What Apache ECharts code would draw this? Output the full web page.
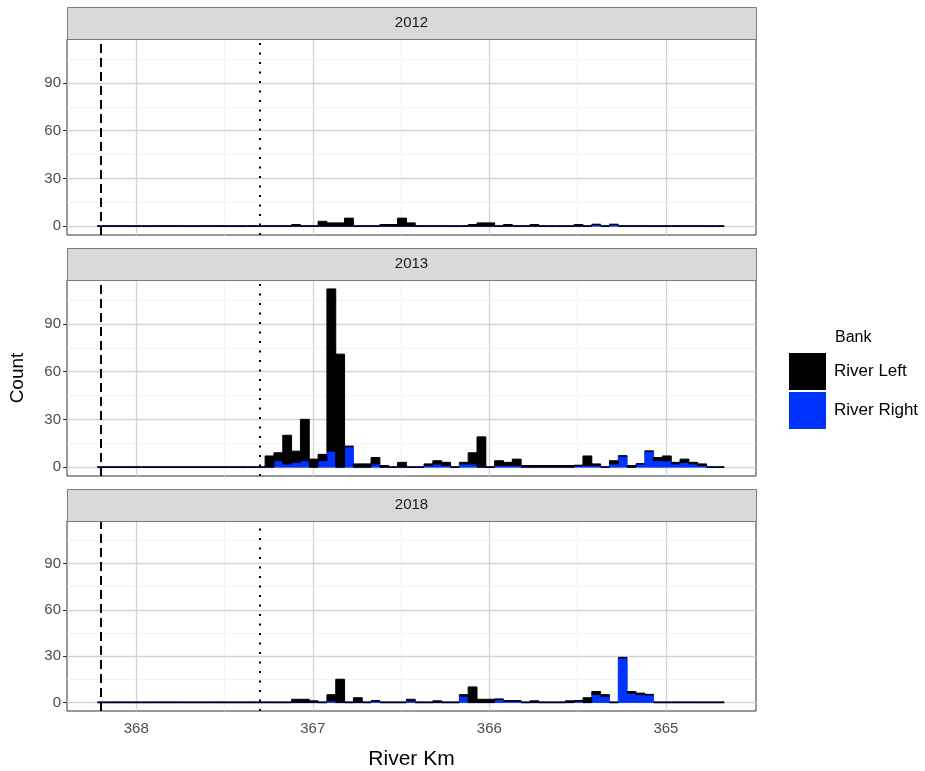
<!DOCTYPE html>
<html>
<head>
<meta charset="utf-8">
<script src="https://cdn.jsdelivr.net/npm/echarts@6/dist/echarts.min.js"></script>
<style>
html,body{margin:0;padding:0;background:#fff;}
#chart{width:925px;height:771px;}
</style>
</head>
<body>
<div id="chart"></div>
<script>
// ---- data ----
const years = ['2012', '2013', '2018'];
const binStart = 368.22;   // km of first bin edge (upstream end)
const binWidth = 0.05;     // km
const xTicks = [368, 367, 366, 365];
const xMinor = [367.5, 366.5, 365.5];
const yTicks = [0, 30, 60, 90];
const yMinor = [15, 45, 75, 105];
const refDashed = 368.2;
const refDotted = 367.3;

// counts per 0.05 km bin (71 bins, from 368.22 downstream)
const left2012 = [0,0,0,0,0,0,0,0,0,0, 0,0,0,0,0,0,0,0,0,0, 0,0,1,0,0,3,2,2,5,0, 0,0,1,1,5,2,0,0,0,0, 0,0,1,2,2,0,1,0,0,1, 0,0,0,0,1,0,0,0,0,0, 0,0,0,0,0,0,0,0,0,0, 0];
const right2012 = [0,0,0,0,0,0,0,0,0,0, 0,0,0,0,0,0,0,0,0,0, 0,0,0,0,0,0,0,0,0,0, 0,0,0,0,0,0,0,0,0,0, 0,0,0,0,0,0,0,0,0,0, 0,0,0,0,0,0,1,0,1,0, 0,0,0,0,0,0,0,0,0,0, 0];
const left2013 = [0,0,0,0,0,0,0,0,0,0, 0,0,0,0,0,0,0,0,0,7, 5,18,7,26,5,4,102,71,0,2, 2,4,1,0,3,0,0,1,2,2, 0,1,7,19,0,3,2,4,1,1, 1,1,1,1,0,6,1,0,2,0, 1,0,0,2,3,1,2,1,1,0, 0];
const right2013 = [0,0,0,0,0,0,0,0,0,0, 0,0,0,0,0,0,0,0,0,0, 4,2,3,4,0,4,10,0,13,0, 0,2,0,0,0,0,0,1,2,1, 0,2,2,0,0,1,1,1,0,0, 0,0,0,0,1,1,1,0,2,7, 0,2,10,4,4,2,3,2,1,0, 0];
const left2018 = [0,0,0,0,0,0,0,0,0,0, 0,0,0,0,0,0,0,0,0,0, 0,0,2,2,1,0,4,15,0,3, 0,0,0,0,0,1,0,0,1,0, 0,1,10,2,2,0,0,0,0,1, 0,0,0,1,0,3,2,1,0,0, 1,1,0,0,0,0,0,0,0,0, 0];
const right2018 = [0,0,0,0,0,0,0,0,0,0, 0,0,0,0,0,0,0,0,0,0, 0,0,0,0,0,0,1,0,0,0, 0,1,0,0,0,1,0,0,0,0, 0,4,0,0,0,2,1,1,0,0, 0,0,0,0,1,0,5,4,0,29, 6,5,5,0,0,0,0,0,0,0, 0];

const leftByYear = [left2012, left2013, left2018];
const rightByYear = [right2012, right2013, right2018];

// ---- styling / layout ----
const colLeft = '#000000';
const colRight = '#0033FF';
const xMin = 364.49, xMax = 368.392;
const yMin = -5.6, yMax = 117.6;
const gridLeft = 67, gridWidth = 689, gridHeight = 196, stripH = 32;
const gridTops = [39, 280, 521];
const font = 'Liberation Sans, Arial, Helvetica, sans-serif';

function barItems(lefts, rights) {
  const L = [], R = [];
  for (let k = 0; k < lefts.length; k++) {
    const x0 = binStart - k * binWidth;
    const x1 = x0 - binWidth;
    const r = rights[k], l = lefts[k];
    R.push([x0, x1, 0, r]);
    L.push([x0, x1, r, r + l]);
  }
  return {L, R};
}

function makeRender(color) {
  return function (params, api) {
    const x0 = api.value(0), x1 = api.value(1), b = api.value(2), t = api.value(3);
    const p0 = api.coord([x0, b]);
    const p1 = api.coord([x1, t]);
    const xl = Math.min(p0[0], p1[0]);
    const w = Math.abs(p1[0] - p0[0]);
    const h = p0[1] - p1[1];
    if (h < 0.5) {
      return {type: 'line', shape: {x1: xl, y1: p0[1], x2: xl + w, y2: p0[1]},
              style: {stroke: color, lineWidth: 1.6}};
    }
    return {type: 'rect', shape: {x: xl, y: p1[1], width: w, height: h},
            style: {fill: color, stroke: color, lineWidth: 1}};
  };
}

const grids = [], xAxes = [], yAxes = [], series = [], graphics = [];
years.forEach((yr, i) => {
  const last = i === years.length - 1;
  grids.push({left: gridLeft, top: gridTops[i], width: gridWidth, height: gridHeight,
              show: true, borderColor: '#333333', borderWidth: 1, backgroundColor: '#ffffff'});
  xAxes.push({
    type: 'value', gridIndex: i, inverse: true, min: xMin, max: xMax,
    splitLine: {show: false}, axisLine: {show: false},
    axisTick: {show: last, customValues: xTicks, length: 5, lineStyle: {color: '#333333', width: 1}},
    axisLabel: {show: last, customValues: xTicks, color: '#4D4D4D', fontSize: 15, fontFamily: font, margin: 10},
    name: last ? 'River Km' : '', nameLocation: 'middle', nameGap: 38,
    nameTextStyle: {fontSize: 21, color: '#000', fontFamily: font}
  });
  yAxes.push({
    type: 'value', gridIndex: i, min: yMin, max: yMax,
    splitLine: {show: false}, axisLine: {show: false},
    axisTick: {show: true, customValues: yTicks, length: 4, lineStyle: {color: '#333333', width: 1}},
    axisLabel: {customValues: yTicks, color: '#4D4D4D', fontSize: 15, fontFamily: font, margin: 6},
    name: i === 1 ? 'Count' : '', nameLocation: 'middle', nameGap: 40, nameRotate: 90,
    nameTextStyle: {fontSize: 19, color: '#000', fontFamily: font}
  });
  // grid lines
  const ml = [];
  xMinor.forEach(v => ml.push({xAxis: v, lineStyle: {color: '#F0F0F0', width: 0.8}}));
  yMinor.forEach(v => ml.push({yAxis: v, lineStyle: {color: '#F0F0F0', width: 0.8}}));
  xTicks.forEach(v => ml.push({xAxis: v, lineStyle: {color: '#D3D3D3', width: 1.3}}));
  yTicks.forEach(v => ml.push({yAxis: v, lineStyle: {color: '#D3D3D3', width: 1.3}}));
  series.push({
    type: 'line', xAxisIndex: i, yAxisIndex: i, data: [], z: 1, silent: true,
    markLine: {z: 1, silent: true, symbol: ['none', 'none'], label: {show: false}, animation: false,
               lineStyle: {type: 'solid'}, data: ml}
  });
  const items = barItems(leftByYear[i], rightByYear[i]);
  series.push({
    type: 'custom', name: 'River Right', xAxisIndex: i, yAxisIndex: i, z: 6,
    itemStyle: {color: colRight}, encode: {x: [0, 1], y: [2, 3]},
    renderItem: makeRender(colRight), data: items.R, animation: false
  });
  series.push({
    type: 'custom', name: 'River Left', xAxisIndex: i, yAxisIndex: i, z: 7,
    itemStyle: {color: colLeft}, encode: {x: [0, 1], y: [2, 3]},
    renderItem: makeRender(colLeft), data: items.L, animation: false
  });
  // reference lines
  series.push({
    type: 'line', xAxisIndex: i, yAxisIndex: i, data: [], z: 8, silent: true,
    markLine: {z: 8, silent: true, symbol: ['none', 'none'], label: {show: false}, animation: false,
               data: [
                 {xAxis: refDashed, lineStyle: {color: '#000', width: 2, type: [9, 5]}},
                 {xAxis: refDotted, lineStyle: {color: '#000', width: 2, type: [2, 7.5]}}
               ]}
  });
  // strip
  graphics.push({type: 'rect', left: gridLeft, top: gridTops[i] - stripH,
                 shape: {width: gridWidth, height: stripH},
                 style: {fill: '#D9D9D9', stroke: '#7A7A7A', lineWidth: 1}, z: 10});
  graphics.push({type: 'text', x: gridLeft + gridWidth / 2, y: gridTops[i] - stripH / 2,
                 style: {text: yr, fill: '#1A1A1A', font: '15px ' + font, align: 'center', verticalAlign: 'middle'}, z: 11});
});

graphics.push({type: 'text', x: 835, y: 338,
               style: {text: 'Bank', fill: '#000', font: '16px ' + font, align: 'left', verticalAlign: 'middle'}});

const chart = echarts.init(document.getElementById('chart'), null, {renderer: 'canvas'});
chart.setOption({
  animation: false,
  backgroundColor: '#ffffff',
  grid: grids, xAxis: xAxes, yAxis: yAxes, series: series, graphic: graphics,
  legend: {
    data: [{name: 'River Left', icon: 'rect'}, {name: 'River Right', icon: 'rect'}],
    orient: 'vertical', left: 784, top: 348, itemWidth: 37, itemHeight: 37, itemGap: 2,
    selectedMode: false,
    textStyle: {fontSize: 17, color: '#000', fontFamily: font, padding: [0, 0, 0, 3]}
  }
});
</script>
</body>
</html>
